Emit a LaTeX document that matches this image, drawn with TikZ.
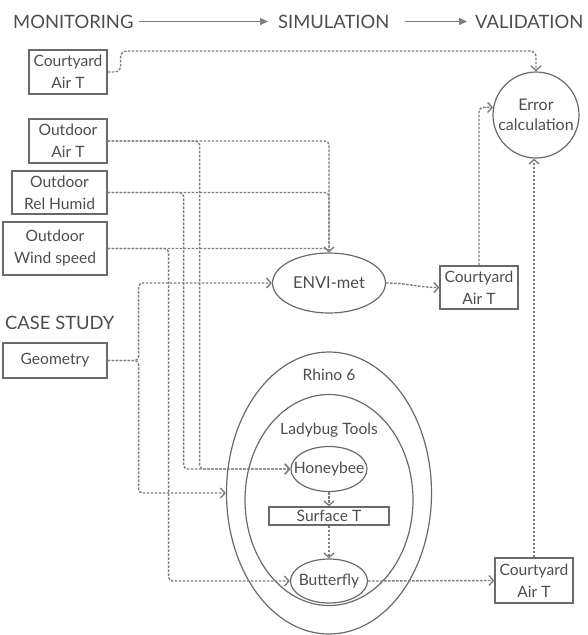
\documentclass[tikz,border=0pt]{standalone}
\usepackage{fontspec}
\setmainfont{Lato}
\usepackage{tikz}
\usetikzlibrary{positioning, shapes.geometric, arrows.meta, calc}
\definecolor{ink}{HTML}{4D4D4D}
\definecolor{edge}{HTML}{6A6A6A}
\definecolor{wire}{HTML}{7E7E7E}

\begin{document}
\begin{tikzpicture}[
  x=1pt, y=-1pt,
  >={Straight Barb[length=4.5pt,width=10pt]},
  every node/.style={font=\fontsize{15.6}{22}\selectfont, text=ink},
  databox/.style={draw=edge, line width=1.2pt, align=center, inner sep=0pt},
  tool/.style={draw=edge, line width=1.2pt, ellipse, inner sep=0pt},
  flow/.style={->, draw=wire, line width=1.4pt, dash pattern=on 2.6pt off 1.4pt, rounded corners=4pt},
  stage/.style={font=\fontsize{18.4}{20}\selectfont, anchor=west, inner sep=0pt},
  stagearrow/.style={-{Triangle[length=8pt,width=7pt]}, draw=wire, line width=1.1pt}
]
\useasboundingbox (0,0) rectangle (587,635);

% Stage headings
\node[stage] (monitoring) at (13,21.5) {MONITORING};
\node[stage] (simulation) at (278,21.5) {SIMULATION};
\node[stage] (validation) at (475,21.5) {VALIDATION};
\node[stage] (casestudy) at (5,323) {CASE STUDY};
\draw[stagearrow] ([xshift=5pt]monitoring.east) -- ([xshift=-10pt]simulation.west);
\draw[stagearrow] ([xshift=15pt]simulation.east) -- ([xshift=-8pt]validation.west);

% Monitoring data
\node[databox, minimum width=78pt, minimum height=44pt] (courtyardMon) at (68,72) {Courtyard\\Air T};
\node[databox, minimum width=78pt, minimum height=44pt] (airT) at (68,141) {Outdoor\\Air T};
\node[databox, minimum width=95pt, minimum height=43pt] (relHumid) at (59.5,192.5) {Outdoor\\Rel Humid};
\node[databox, minimum width=104pt, minimum height=53pt] (windSpeed) at (55,248.5) {Outdoor\\Wind speed};
\node[databox, minimum width=104pt, minimum height=35pt] (geometry) at (55,360.5) {Geometry};

% Simulation tools
\node[tool, minimum width=113pt, minimum height=60pt, font=\fontsize{16.4}{22}\selectfont] (envimet) at (329,283) {ENVI-met};
\node[tool, minimum width=205pt, minimum height=282pt] (rhino) at (329,493) {};
\node[tool, minimum width=168pt, minimum height=211pt] (ladybug) at (329,500) {};
\node (rhinolbl) at (329,375) {Rhino 6};
\node (ladybuglbl) at (329,430) {Ladybug Tools};
\node[tool, minimum width=76pt, minimum height=45pt, label=center:Honeybee] (honeybee) at (329,469) {};
\node[databox, minimum width=120pt, minimum height=18pt] (surfaceT) at (329,516) {Surface T};
\node[tool, minimum width=77pt, minimum height=44pt, label=center:Butterfly] (butterfly) at (329,581) {};

% Simulated outputs and validation
\node[databox, minimum width=78pt, minimum height=43pt] (courtyardSim) at (479,287.5) {Courtyard\\Air T};
\node[databox, minimum width=78pt, minimum height=45pt] (courtyardLb) at (534,580.5) {Courtyard\\Air T};
\node[draw=edge, line width=1.2pt, circle, inner sep=0pt, minimum size=86pt,
  label={[align=center, font=\fontsize{16}{20}\selectfont]center:Error\\calculation}] (errorCalc) at (536,115) {};

% Inputs to ENVI-met
\draw[flow] (airT.east) -| (envimet.north);
\draw[flow, -] (relHumid.east) -| (envimet.north);
\draw[flow, -] (windSpeed.east) -| (envimet.north);
\draw[flow] (geometry.east) -- ++(31,0) |- (envimet.west);

% Inputs to Rhino / Ladybug
\draw[flow] (airT.east) -- ++(92,0) |- (honeybee.west);
\draw[flow] (relHumid.east) -- ++(76,0) |- (honeybee.west);
\draw[flow] (windSpeed.east) -- ++(61,0) |- (butterfly.west);
\draw[flow] (geometry.east) -- ++(31,0) |- (rhino.west);
\draw[flow] (honeybee.south) -- (surfaceT.north);
\draw[flow] (surfaceT.south) -- (butterfly.north);

% Outputs
\draw[flow] (envimet.east) to[out=0, in=180] (courtyardSim.west);
\draw[flow] (butterfly.east) -- (courtyardLb.west);

% Validation
\draw[flow, rounded corners=6pt] (courtyardMon.east) -- ++(13,0) -- ++(0,-21) -| (errorCalc.north);
\draw[flow] (courtyardSim.north) |- (errorCalc.170);
\draw[flow] (courtyardLb.north) -- (courtyardLb.north |- errorCalc.south);

\end{tikzpicture}
\end{document}
